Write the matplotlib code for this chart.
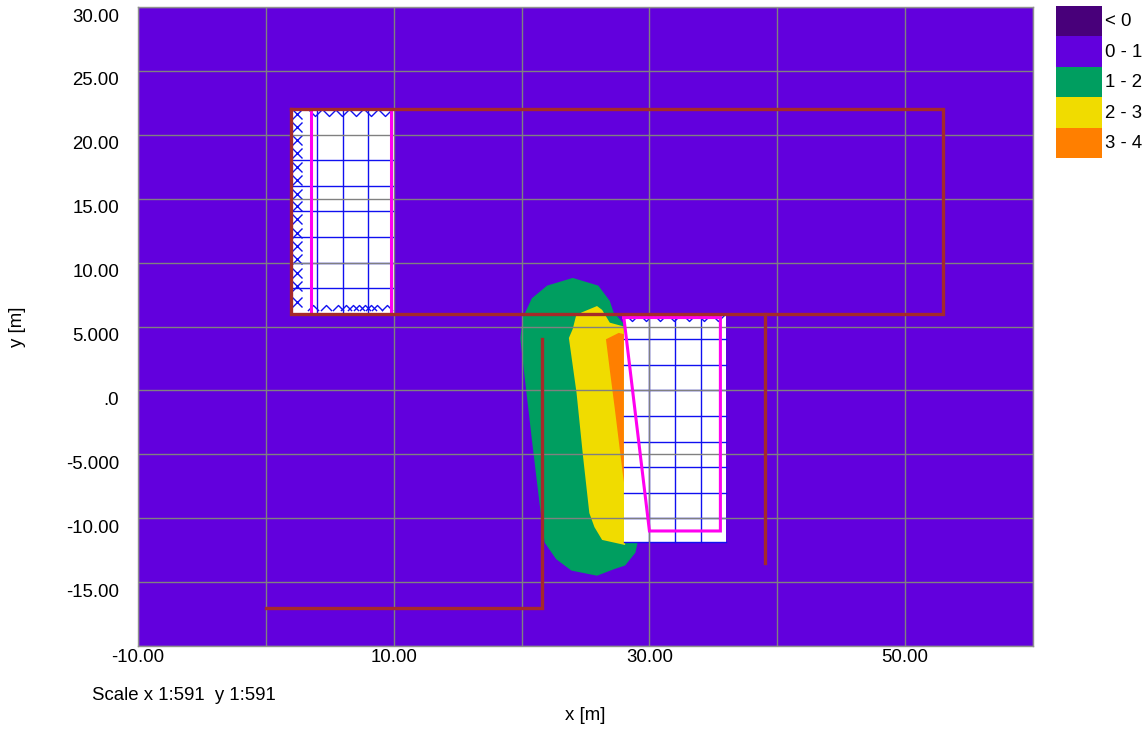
import matplotlib
matplotlib.use("Agg")
import matplotlib.pyplot as plt
from matplotlib.patches import Rectangle
from matplotlib.path import Path
from matplotlib.transforms import ScaledTranslation

plt.rcParams['font.family'] = ['Liberation Sans', 'DejaVu Sans']

W, H = 1146, 729
legend_labels = ['< 0', '0 - 1', '1 - 2', '2 - 3', '3 - 4']
legend_colors = ['#48007A', '#6200DD', '#009E60', '#F0DC00', '#FF7F00']

x_grid = [-10, 0, 10, 20, 30, 40, 50, 60]
y_grid = [-20, -15, -10, -5, 0, 5, 10, 15, 20, 25, 30]
x_tick_pos = [-10, 10, 30, 50]
x_tick_lab = ['-10.00', '10.00', '30.00', '50.00']
y_tick_pos = [30, 25, 20, 15, 10, 5, 0, -5, -10, -15]
y_tick_lab = ['30.00', '25.00', '20.00', '15.00', '10.00', '5.000', '.0', '-5.000', '-10.00', '-15.00']

green_x = [24.0, 26.0, 26.9, 27.2, 28.0, 29.1, 28.9, 28.1, 27.2, 25.9, 23.9, 22.7, 21.8, 21.4, 20.8, 20.2, 19.9, 20.1, 20.8, 22.0]
green_y = [8.8, 8.2, 7.0, 6.1, 5.2, -11.8, -12.7, -13.7, -14.0, -14.5, -14.1, -13.2, -11.9, -8.8, -3.8, 1.4, 4.1, 5.7, 7.2, 8.2]
yellow_x = [25.9, 26.3, 26.9, 28.0, 28.1, 26.3, 25.7, 25.3, 24.8, 24.3, 23.7, 24.0, 24.25, 24.7]
yellow_y = [6.6, 6.3, 5.3, 5.0, -12.1, -11.7, -10.7, -9.6, -5.1, -0.2, 4.1, 4.8, 5.8, 6.1]
orange_x = [26.6, 27.6, 28.0, 28.0, 27.3, 26.9]
orange_y = [4.0, 4.5, 4.4, -7.2, -1.5, 1.6]

slab1 = (2, 6, 10, 22)
slab2 = (28, -11.85, 36, 5.9)
slab1_vx = [4, 6, 8]
slab1_hy = [8, 10, 12, 14, 16, 18]
slab2_vx = [30, 32, 34]
slab2_hy = [4, 2, 0, -2, -4, -6, -8, -10, -11.85]

mag1_x = [3.5, 3.5]
mag1_y = [22, 6]
mag1b_x = [9.8, 9.8]
mag1b_y = [22, 6]
mag2_x = [28, 35.55, 35.55, 30, 28]
mag2_y = [5.7, 5.7, -11, -11, 5.7]

wall1_x = [2, 52.95, 52.95, 2, 2]
wall1_y = [22, 22, 6, 6, 22]
wall2_x = [0, 21.6, 21.6]
wall2_y = [-17, -17, 4]
wall3_x = [39, 39]
wall3_y = [6, -13.5]

left_x_y = [21.6, 20.6, 19.6, 18.6, 17.5, 16.5, 15.4, 14.4, 13.4, 12.3, 11.3, 10.3, 9.2, 8.2, 6.9]
top_v_x = [3.85, 4.9, 5.95, 7.06, 8.2, 9.3]
bot_l_x = [3.7, 4.7, 5.67, 6.3, 6.85, 7.3, 7.76, 8.2, 8.67, 9.45]
top2_v_x = [28.6, 29.7, 30.8, 31.95, 33.1, 34.3, 35.4]

fig = plt.figure(figsize=(W / 100, H / 100), dpi=100)
ax = fig.add_axes([138 / W, 1 - 646 / H, (1033 - 138) / W, (646 - 7) / H])
ax.set_xlim(-10, 60)
ax.set_ylim(-20, 30)
ax.set_facecolor(legend_colors[1])

ax.fill(green_x, green_y, color=legend_colors[2], lw=0, zorder=1)
ax.fill(yellow_x, yellow_y, color=legend_colors[3], lw=0, zorder=2)
ax.fill(orange_x, orange_y, color=legend_colors[4], lw=0, zorder=3)

for s in (slab1, slab2):
    ax.add_patch(Rectangle((s[0], s[1]), s[2] - s[0], s[3] - s[1], fc='white', ec='none', zorder=4))
blue = '#1010F0'
for v in slab1_vx:
    ax.plot([v, v], [slab1[1], slab1[3]], color=blue, lw=1, zorder=5)
for v in slab1_hy:
    ax.plot([slab1[0], slab1[2]], [v, v], color=blue, lw=1, zorder=5)
for v in slab2_vx:
    ax.plot([v, v], [slab2[1], slab2[3]], color=blue, lw=1, zorder=5)
for v in slab2_hy:
    ax.plot([slab2[0], slab2[2]], [v, v], color=blue, lw=1, zorder=5)

v_mark = Path([(-1, 1), (0, 0), (1, 1)], [Path.MOVETO, Path.LINETO, Path.LINETO])
l_mark = Path([(-1, -1), (0, 0), (1, -1)], [Path.MOVETO, Path.LINETO, Path.LINETO])
ax.plot([2.45] * len(left_x_y), left_x_y, ls='none', marker='x', ms=6.5, mew=1, color=blue, zorder=6)
ax.plot(top_v_x, [21.46] * len(top_v_x), ls='none', marker=v_mark, ms=9.4, mew=1, mfc='none', color=blue, zorder=6)
ax.plot(bot_l_x, [6.65] * len(bot_l_x), ls='none', marker=l_mark, ms=8, mew=1, mfc='none', color=blue, zorder=6)
ax.plot(top2_v_x, [5.42] * len(top2_v_x), ls='none', marker=v_mark, ms=9.4, mew=1, mfc='none', color=blue, zorder=6)

for v in x_grid:
    ax.axvline(v, color='#808080', lw=1, zorder=7)
for v in y_grid:
    ax.axhline(v, color='#808080', lw=1, zorder=7)

ax.plot(mag1_x, mag1_y, color='#FF00F0', lw=2.2, zorder=8)
ax.plot(mag1b_x, mag1b_y, color='#FF00F0', lw=2.2, zorder=8)
ax.plot(mag2_x, mag2_y, color='#FF00F0', lw=2.2, zorder=8, solid_joinstyle='miter')

brown = '#A52A2A'
for xs, ys in ((wall1_x, wall1_y), (wall2_x, wall2_y), (wall3_x, wall3_y)):
    ax.plot(xs, ys, color=brown, lw=2.4, zorder=9, solid_joinstyle='miter')

for s in ax.spines.values():
    s.set_color('#909090')
    s.set_linewidth(1)
    s.set_zorder(10)

ax.set_xticks(x_tick_pos, x_tick_lab, fontsize=13.4)
ax.set_yticks(y_tick_pos, y_tick_lab, fontsize=13.4)
ax.tick_params(length=0, pad=0)
ax.tick_params(axis='x', pad=2)
ax.tick_params(axis='y', pad=13.5)
off = ScaledTranslation(0, -8 / 100, fig.dpi_scale_trans)
for t in ax.get_yticklabels():
    t.set_transform(t.get_transform() + off)

fig.text(585 / W, 1 - 716 / H, 'x [m]', fontsize=13.4, ha='center', va='center')
fig.text(17 / W, 1 - 327 / H, 'y [m]', fontsize=13.4, ha='center', va='center', rotation=90)
fig.text(92 / W, 1 - 696 / H, 'Scale x 1:591  y 1:591', fontsize=13.4, ha='left', va='center')

lax = fig.add_axes([1056 / W, 1 - 158 / H, 46 / W, 152 / H])
lax.set_xlim(0, 1)
lax.set_ylim(len(legend_labels), 0)
lax.axis('off')
for i, (lab, col) in enumerate(zip(legend_labels, legend_colors)):
    lax.add_patch(Rectangle((0, i), 1, 1, fc=col, ec='none'))
    lax.text(1.07, i + 0.52, lab, fontsize=13.4, ha='left', va='center', clip_on=False)

fig.savefig('out.png', dpi=100)
